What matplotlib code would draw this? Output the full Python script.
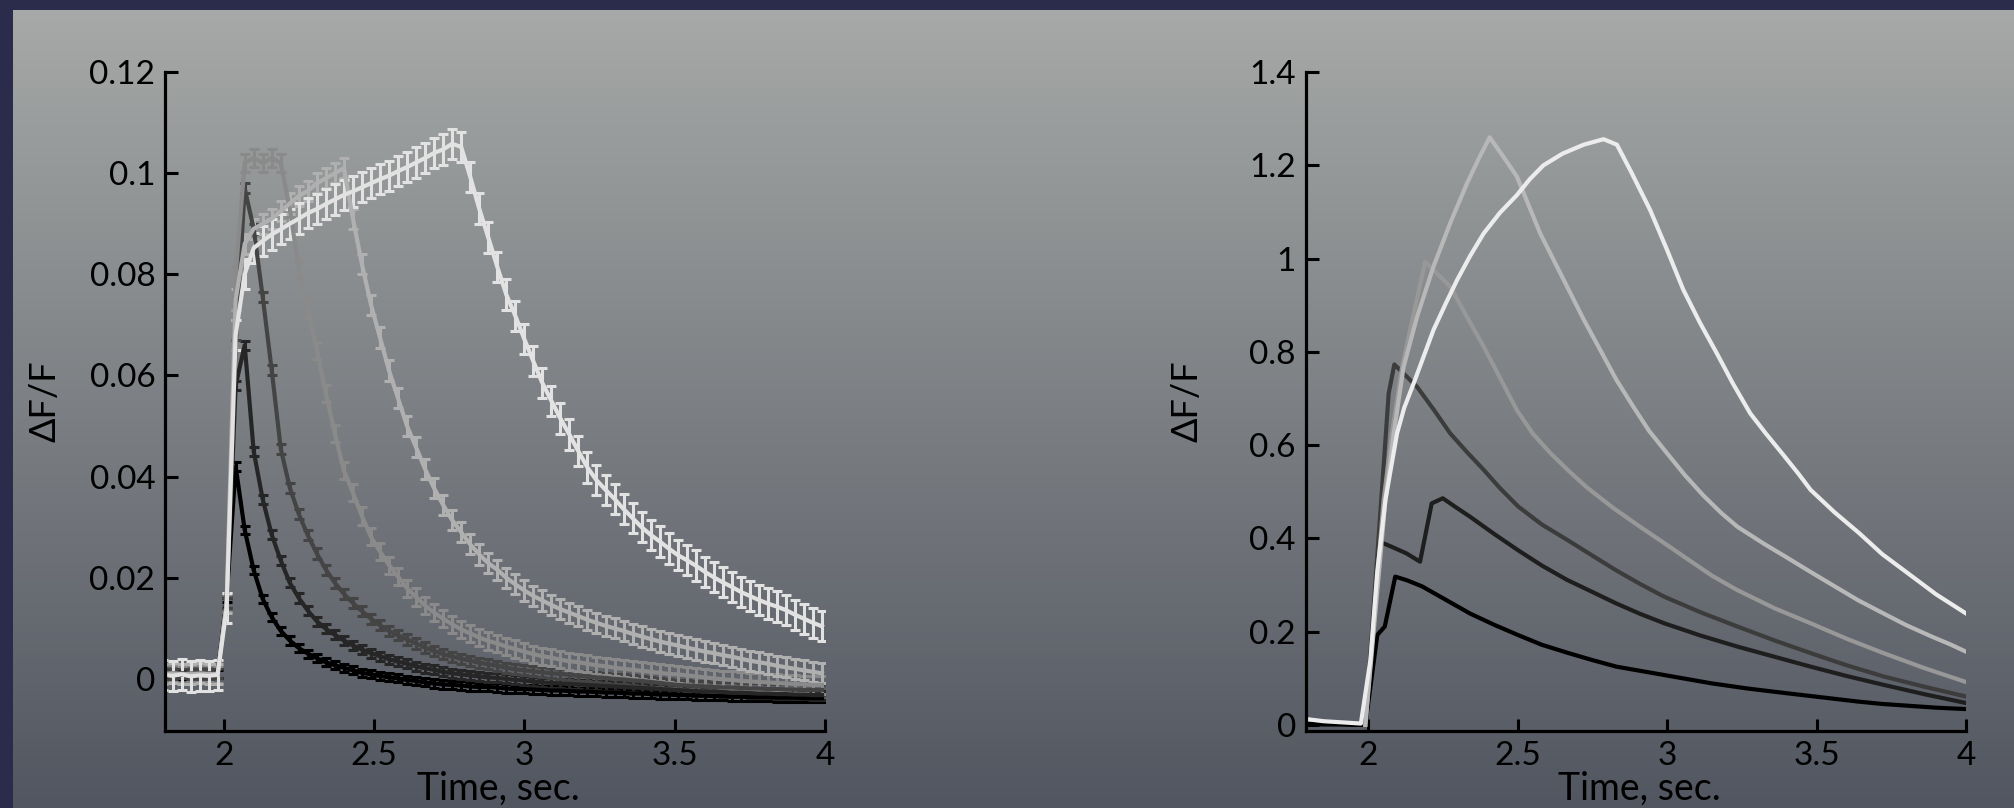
"""Two ΔF/F panels on a Keynote-style gradient slide:
left = mean traces with error bars, right = model traces.
"""
import numpy as np
import matplotlib
matplotlib.use("Agg")
import matplotlib.pyplot as plt
from matplotlib.ticker import FuncFormatter

plt.rcParams['font.family'] = ['Lato', 'DejaVu Sans']

# ---------------------------------------------------------------------------
# left panel: measured traces, sampled every 0.03 s from 1.80 s
# ---------------------------------------------------------------------------
t_left = np.round(1.80 + 0.03 * np.arange(74), 2)

s1_black = [0.0010, 0.0011, 0.0008, 0.0010, 0.0012, 0.0008, 0.0010, 0.0160, 0.0420, 0.0295,
            0.0215, 0.0158, 0.0122, 0.0095, 0.0076, 0.0061, 0.0050, 0.0041, 0.0033, 0.0027,
            0.0022, 0.0017, 0.0012, 0.0009, 0.0006, 0.0003, 0.0001, -0.0002, -0.0004, -0.0007,
            -0.0009, -0.0011, -0.0012, -0.0013, -0.0015, -0.0016, -0.0016, -0.0017, -0.0019, -0.0020,
            -0.0020, -0.0021, -0.0022, -0.0023, -0.0023, -0.0024, -0.0025, -0.0025, -0.0026, -0.0027,
            -0.0027, -0.0028, -0.0029, -0.0029, -0.0030, -0.0031, -0.0031, -0.0032, -0.0032, -0.0033,
            -0.0033, -0.0034, -0.0034, -0.0035, -0.0035, -0.0036, -0.0036, -0.0036, -0.0037, -0.0037,
            -0.0037, -0.0038, -0.0038, -0.0038]
s2_dark = [0.0009, 0.0010, 0.0011, 0.0009, 0.0010, 0.0011, 0.0010, 0.0150, 0.0580, 0.0660,
           0.0450, 0.0355, 0.0285, 0.0234, 0.0190, 0.0160, 0.0135, 0.0114, 0.0099, 0.0087,
           0.0076, 0.0066, 0.0058, 0.0051, 0.0045, 0.0039, 0.0034, 0.0030, 0.0025, 0.0021,
           0.0018, 0.0014, 0.0011, 0.0009, 0.0007, 0.0005, 0.0003, 0.0002, 0.0000, -0.0002,
           -0.0003, -0.0005, -0.0007, -0.0008, -0.0009, -0.0010, -0.0011, -0.0012, -0.0013, -0.0014,
           -0.0015, -0.0016, -0.0017, -0.0018, -0.0019, -0.0020, -0.0021, -0.0022, -0.0023, -0.0024,
           -0.0025, -0.0025, -0.0026, -0.0027, -0.0027, -0.0028, -0.0029, -0.0029, -0.0030, -0.0030,
           -0.0031, -0.0031, -0.0032, -0.0032]
s3_gray = [0.0010, 0.0009, 0.0011, 0.0010, 0.0009, 0.0010, 0.0011, 0.0150, 0.0660, 0.0970,
           0.0890, 0.0755, 0.0610, 0.0455, 0.0378, 0.0326, 0.0284, 0.0248, 0.0216, 0.0190,
           0.0168, 0.0150, 0.0134, 0.0119, 0.0106, 0.0095, 0.0086, 0.0078, 0.0070, 0.0062,
           0.0055, 0.0049, 0.0044, 0.0040, 0.0036, 0.0032, 0.0029, 0.0026, 0.0022, 0.0019,
           0.0017, 0.0015, 0.0013, 0.0011, 0.0010, 0.0008, 0.0006, 0.0005, 0.0003, 0.0002,
           0.0000, -0.0001, -0.0003, -0.0004, -0.0006, -0.0008, -0.0010, -0.0012, -0.0013, -0.0014,
           -0.0015, -0.0016, -0.0017, -0.0017, -0.0018, -0.0019, -0.0019, -0.0020, -0.0020, -0.0021,
           -0.0021, -0.0022, -0.0022, -0.0022]
s4_mid = [0.0011, 0.0010, 0.0009, 0.0011, 0.0010, 0.0010, 0.0009, 0.0150, 0.0800, 0.1020,
          0.1030, 0.1020, 0.1030, 0.1020, 0.0930, 0.0810, 0.0730, 0.0650, 0.0565, 0.0485,
          0.0412, 0.0368, 0.0322, 0.0281, 0.0252, 0.0225, 0.0202, 0.0179, 0.0162, 0.0145,
          0.0131, 0.0119, 0.0108, 0.0098, 0.0090, 0.0082, 0.0075, 0.0070, 0.0064, 0.0059,
          0.0054, 0.0049, 0.0045, 0.0042, 0.0038, 0.0035, 0.0033, 0.0030, 0.0027, 0.0025,
          0.0022, 0.0020, 0.0018, 0.0016, 0.0014, 0.0012, 0.0010, 0.0009, 0.0007, 0.0005,
          0.0003, 0.0001, -0.0001, -0.0002, -0.0004, -0.0005, -0.0006, -0.0007, -0.0008, -0.0009,
          -0.0010, -0.0011, -0.0012, -0.0012]
s5_light = [0.0010, 0.0011, 0.0010, 0.0009, 0.0011, 0.0010, 0.0010, 0.0150, 0.0750, 0.0860,
            0.0890, 0.0900, 0.0910, 0.0925, 0.0940, 0.0955, 0.0965, 0.0980, 0.0990, 0.1000,
            0.1010, 0.0910, 0.0820, 0.0740, 0.0675, 0.0610, 0.0555, 0.0500, 0.0458, 0.0415,
            0.0377, 0.0344, 0.0314, 0.0290, 0.0266, 0.0246, 0.0229, 0.0216, 0.0200, 0.0187,
            0.0175, 0.0164, 0.0155, 0.0146, 0.0138, 0.0131, 0.0124, 0.0117, 0.0111, 0.0105,
            0.0100, 0.0095, 0.0089, 0.0084, 0.0079, 0.0074, 0.0070, 0.0066, 0.0062, 0.0058,
            0.0054, 0.0051, 0.0047, 0.0044, 0.0040, 0.0036, 0.0033, 0.0030, 0.0026, 0.0023,
            0.0020, 0.0017, 0.0014, 0.0011]
s6_white = [0.0008, 0.0006, 0.0009, 0.0005, 0.0007, 0.0006, 0.0008, 0.0140, 0.0680, 0.0800,
            0.0852, 0.0866, 0.0879, 0.0889, 0.0900, 0.0910, 0.0921, 0.0929, 0.0939, 0.0948,
            0.0957, 0.0964, 0.0972, 0.0980, 0.0988, 0.0995, 0.1004, 0.1012, 0.1021, 0.1030,
            0.1040, 0.1047, 0.1058, 0.1052, 0.0993, 0.0930, 0.0873, 0.0815, 0.0760, 0.0718,
            0.0672, 0.0628, 0.0585, 0.0550, 0.0515, 0.0483, 0.0450, 0.0418, 0.0393, 0.0374,
            0.0356, 0.0336, 0.0318, 0.0300, 0.0285, 0.0272, 0.0258, 0.0245, 0.0235, 0.0224,
            0.0212, 0.0201, 0.0191, 0.0182, 0.0172, 0.0164, 0.0156, 0.0149, 0.0143, 0.0136,
            0.0127, 0.0119, 0.0111, 0.0104]

left_series = [s1_black, s2_dark, s3_gray, s4_mid, s5_light, s6_white]
left_err = [0.0008, 0.0009, 0.0010, 0.0017, 0.0020, 0.0030]
left_colors = ['#000000', '#262626', '#444444', '#8a8a8a', '#b0b0b0', '#e2e2e2']

# ---------------------------------------------------------------------------
# right panel: model traces (each with its own time points)
# ---------------------------------------------------------------------------
r1_t = [1.80, 1.85, 1.90, 1.95, 1.99, 2.03, 2.055, 2.09, 2.13, 2.18, 2.26, 2.34, 2.42, 2.50,
        2.58, 2.67, 2.75, 2.83, 2.91, 2.99, 3.07, 3.15, 3.27, 3.40, 3.52, 3.64, 3.72, 3.81,
        3.90, 4.00]
r1_y = [0.002, 0.001, 0.001, 0.000, 0.000, 0.193, 0.211, 0.318, 0.310, 0.297, 0.268, 0.239,
        0.215, 0.193, 0.172, 0.154, 0.139, 0.125, 0.116, 0.107, 0.098, 0.089, 0.078, 0.068,
        0.059, 0.050, 0.045, 0.041, 0.037, 0.034]
r2_t = [1.99, 2.037, 2.078, 2.127, 2.173, 2.212, 2.249, 2.29, 2.339, 2.42, 2.50, 2.58, 2.665,
        2.75, 2.828, 2.91, 2.99, 3.11, 3.235, 3.36, 3.48, 3.60, 3.724, 3.86, 4.00]
r2_y = [0.000, 0.393, 0.382, 0.368, 0.350, 0.475, 0.486, 0.468, 0.447, 0.410, 0.375, 0.342,
        0.311, 0.285, 0.261, 0.238, 0.218, 0.192, 0.168, 0.146, 0.125, 0.105, 0.086, 0.066,
        0.047]
r3_t = [1.99, 2.051, 2.068, 2.087, 2.163, 2.22, 2.274, 2.33, 2.386, 2.44, 2.502, 2.58, 2.665,
        2.75, 2.828, 2.91, 2.99, 3.11, 3.235, 3.36, 3.48, 3.60, 3.724, 3.86, 4.00]
r3_y = [0.000, 0.554, 0.711, 0.773, 0.725, 0.675, 0.625, 0.585, 0.547, 0.508, 0.468, 0.430,
        0.397, 0.363, 0.332, 0.302, 0.275, 0.242, 0.211, 0.181, 0.154, 0.128, 0.104, 0.082,
        0.061]
r4_t = [1.99, 2.051, 2.079, 2.113, 2.152, 2.19, 2.274, 2.33, 2.386, 2.44, 2.497, 2.55, 2.609,
        2.67, 2.73, 2.82, 2.909, 2.99, 3.072, 3.15, 3.235, 3.36, 3.48, 3.60, 3.724, 3.86, 4.00]
r4_y = [0.000, 0.482, 0.625, 0.768, 0.883, 0.993, 0.940, 0.875, 0.811, 0.745, 0.675, 0.625,
        0.583, 0.545, 0.510, 0.465, 0.425, 0.390, 0.354, 0.320, 0.289, 0.250, 0.218, 0.185,
        0.154, 0.122, 0.092]
r5_t = [1.99, 2.057, 2.085, 2.118, 2.163, 2.218, 2.274, 2.33, 2.37, 2.406, 2.45, 2.497, 2.575,
        2.665, 2.72, 2.776, 2.83, 2.887, 2.94, 2.999, 3.06, 3.121, 3.18, 3.235, 3.32, 3.398,
        3.48, 3.561, 3.64, 3.724, 3.80, 3.887, 3.95, 4.00]
r5_y = [0.000, 0.482, 0.625, 0.768, 0.875, 0.983, 1.076, 1.161, 1.215, 1.260, 1.220, 1.176,
        1.054, 0.940, 0.870, 0.804, 0.740, 0.682, 0.630, 0.583, 0.535, 0.492, 0.455, 0.425,
        0.390, 0.360, 0.328, 0.297, 0.267, 0.239, 0.214, 0.189, 0.172, 0.157]
r6_t = [1.80, 1.85, 1.90, 1.95, 1.975, 2.007, 2.03, 2.057, 2.096, 2.12, 2.152, 2.185, 2.218,
        2.26, 2.297, 2.34, 2.386, 2.44, 2.497, 2.54, 2.586, 2.65, 2.72, 2.787, 2.832, 2.88,
        2.943, 3.00, 3.054, 3.11, 3.166, 3.22, 3.278, 3.33, 3.39, 3.44, 3.48, 3.56, 3.643,
        3.72, 3.806, 3.90, 4.00]
r6_y = [0.012, 0.008, 0.006, 0.004, 0.003, 0.140, 0.330, 0.482, 0.625, 0.680, 0.733, 0.790,
        0.847, 0.905, 0.954, 1.005, 1.054, 1.098, 1.136, 1.170, 1.200, 1.225, 1.244, 1.256,
        1.244, 1.185, 1.104, 1.018, 0.933, 0.862, 0.797, 0.732, 0.668, 0.625, 0.578, 0.538,
        0.504, 0.456, 0.411, 0.366, 0.325, 0.280, 0.239]

right_series = [(r1_t, r1_y), (r2_t, r2_y), (r3_t, r3_y), (r4_t, r4_y), (r5_t, r5_y),
                (r6_t, r6_y)]
right_colors = ['#000000', '#1e1e1e', '#3c3c3c', '#989898', '#b8b8b8', '#ececec']

x_ticks = [2, 2.5, 3, 3.5, 4]
left_yticks = [0, 0.02, 0.04, 0.06, 0.08, 0.1, 0.12]
right_yticks = [0, 0.2, 0.4, 0.6, 0.8, 1.0, 1.2, 1.4]

# ---------------------------------------------------------------------------
W, H = 2014, 808
fig = plt.figure(figsize=(W / 100, H / 100), dpi=100)
fig.patch.set_facecolor('#2b2b4b')

# gradient slide background (navy frame on top and left)
bg = fig.add_axes([13 / W, 0, 1 - 13 / W, (H - 10) / H])
top = np.array([166, 169, 167]) / 255
bot = np.array([82, 86, 96]) / 255
frac = np.linspace(0, 1, 256)[:, None]
grad = top[None, :] * (1 - frac) + bot[None, :] * frac
bg.imshow(grad[:, None, :], aspect='auto', extent=[0, 1, 0, 1])
bg.set_axis_off()
bg.set_zorder(-10)

fmt = FuncFormatter(lambda v, p: f"{v:g}")


def style(ax, ylab_x):
    ax.set_facecolor('none')
    for s in ('top', 'right'):
        ax.spines[s].set_visible(False)
    for s in ('left', 'bottom'):
        ax.spines[s].set_linewidth(2.3)
        ax.spines[s].set_color('black')
    ax.tick_params(direction='in', length=9, width=2.2, labelsize=24, pad=7,
                   colors='black')
    ax.xaxis.set_major_formatter(fmt)
    ax.yaxis.set_major_formatter(fmt)
    ax.set_xticks(x_ticks)
    ax.set_xlabel('Time, sec.', fontsize=27, va='center')
    ax.set_ylabel('ΔF/F', fontsize=26, va='center')
    ax.xaxis.set_label_coords(0.505, -0.088)
    ax.yaxis.set_label_coords(ylab_x, 0.5)


ax1 = fig.add_axes([165 / W, 77 / H, 660 / W, 659 / H])
style(ax1, -0.182)
for ys, e, c in zip(left_series, left_err, left_colors):
    ax1.errorbar(t_left, ys, yerr=e, color=c, lw=3, elinewidth=2.2,
                 capsize=3.8, capthick=2.2)
ax1.set_xlim(1.805, 4.0)
ax1.set_ylim(-0.0103, 0.12)
ax1.set_yticks(left_yticks)

ax2 = fig.add_axes([1305.6 / W, 77 / H, 660.4 / W, 659 / H])
style(ax2, -0.18)
for (xs, ys), c in zip(right_series, right_colors):
    ax2.plot(xs, ys, color=c, lw=3.0, solid_joinstyle='round')
ax2.set_xlim(1.79, 4.0)
ax2.set_ylim(-0.013, 1.4)
ax2.set_yticks(right_yticks)

fig.savefig('out.png', dpi=100, facecolor=fig.get_facecolor())
